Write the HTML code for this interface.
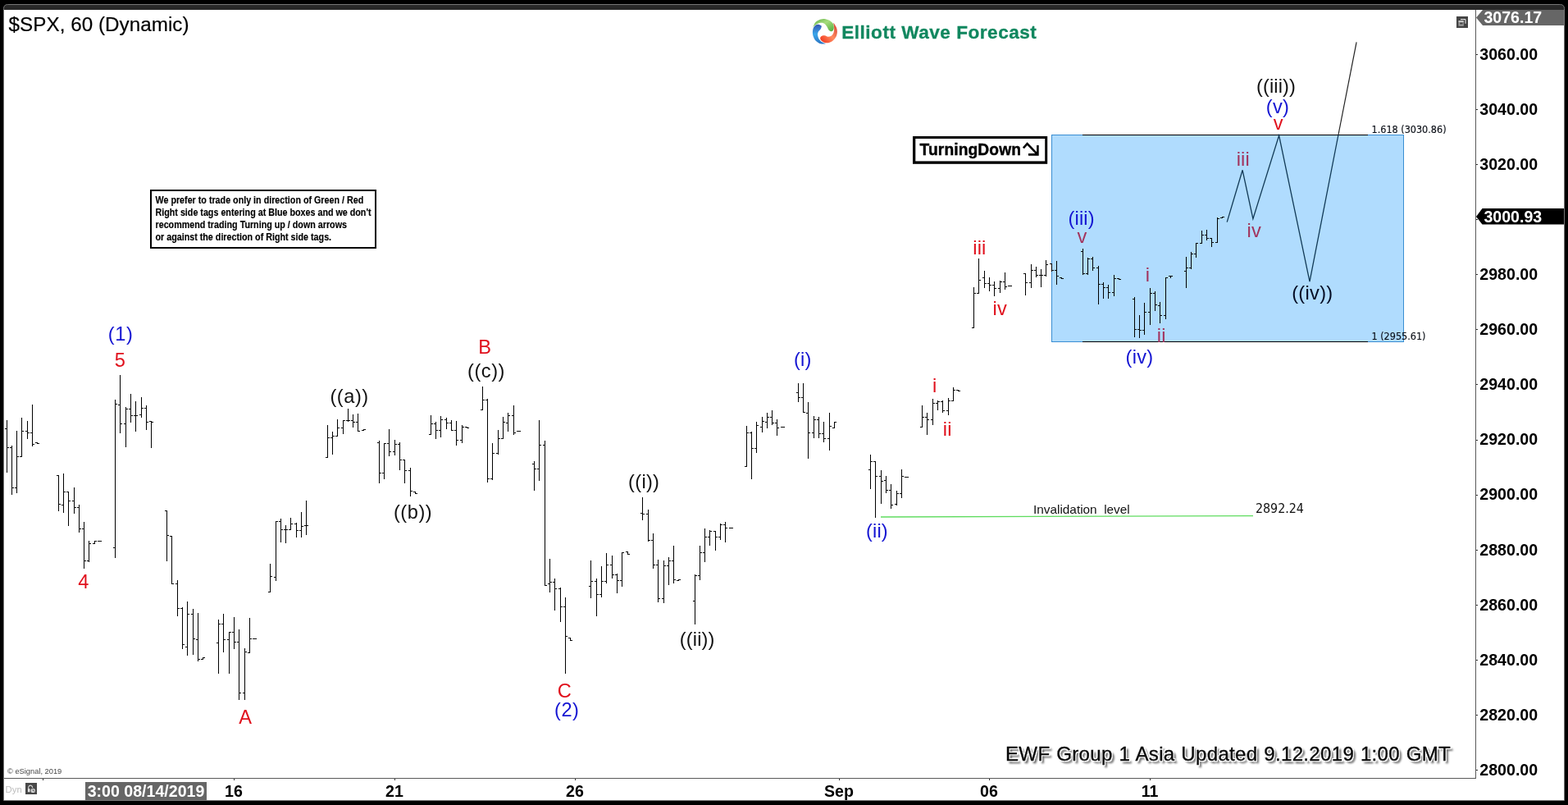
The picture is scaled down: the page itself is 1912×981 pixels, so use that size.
<!DOCTYPE html>
<html lang="en"><head><meta charset="utf-8"><title>$SPX, 60 (Dynamic) - Elliott Wave Forecast</title>
<style>
html,body{margin:0;padding:0;background:#000;}
body{width:1912px;height:981px;overflow:hidden;position:relative;font-family:"Liberation Sans",sans-serif;}
svg{position:absolute;left:0;top:0;display:block;}
text{font-family:"Liberation Sans",sans-serif;}
.lb{font-size:23.6px;letter-spacing:0.45px;}
.r{fill:#e0101c;} .b{fill:#1414d2;} .k{fill:#111;}
.rb{fill:#a2345e;} .kb{fill:#040c24;}
.ax{font-weight:bold;font-size:19.6px;fill:#000;}
.th{font-family:"DejaVu Sans Condensed","DejaVu Sans",sans-serif;}
</style></head><body>
<svg width="1912" height="981" viewBox="0 0 1912 981">

<rect x="0" y="0" width="1912" height="981" fill="#000"/>
<path d="M4.5 975.5 V10.5 Q4.5 5.500 9.5 5.500 H1902.5 Q1907.5 5.500 1907.5 10.5 V975.5 Z" fill="#282828" stroke="#777" stroke-width="1"/>
<rect x="5" y="12" width="1902" height="963" fill="#fff"/>
<rect x="0" y="976" width="1912" height="5" fill="#000"/>
<g shape-rendering="crispEdges">
<rect x="1799" y="12" width="1" height="937" fill="#585858"/>
<rect x="5" y="948" width="1795" height="1" fill="#585858"/>
<rect x="1800" y="938" width="2" height="1" fill="#333"/>
<rect x="1800" y="871" width="2" height="1" fill="#333"/>
<rect x="1800" y="804" width="2" height="1" fill="#333"/>
<rect x="1800" y="737" width="2" height="1" fill="#333"/>
<rect x="1800" y="670" width="2" height="1" fill="#333"/>
<rect x="1800" y="603" width="2" height="1" fill="#333"/>
<rect x="1800" y="536" width="2" height="1" fill="#333"/>
<rect x="1800" y="468" width="2" height="1" fill="#333"/>
<rect x="1800" y="401" width="2" height="1" fill="#333"/>
<rect x="1800" y="334" width="2" height="1" fill="#333"/>
<rect x="1800" y="267" width="2" height="1" fill="#333"/>
<rect x="1800" y="200" width="2" height="1" fill="#333"/>
<rect x="1800" y="133" width="2" height="1" fill="#333"/>
<rect x="1800" y="66" width="2" height="1" fill="#333"/>
<rect x="52" y="949" width="1" height="2" fill="#333"/>
<rect x="285" y="949" width="1" height="2" fill="#333"/>
<rect x="481" y="949" width="1" height="2" fill="#333"/>
<rect x="701" y="949" width="1" height="2" fill="#333"/>
<rect x="1023" y="949" width="1" height="2" fill="#333"/>
<rect x="1206" y="949" width="1" height="2" fill="#333"/>
<rect x="1402" y="949" width="1" height="2" fill="#333"/>
</g>
<text class="ax" x="1804.3" y="944.8">2800.00</text>
<text class="ax" x="1804.3" y="877.7">2820.00</text>
<text class="ax" x="1804.3" y="810.6">2840.00</text>
<text class="ax" x="1804.3" y="743.6">2860.00</text>
<text class="ax" x="1804.3" y="676.5">2880.00</text>
<text class="ax" x="1804.3" y="609.4">2900.00</text>
<text class="ax" x="1804.3" y="542.3">2920.00</text>
<text class="ax" x="1804.3" y="475.3">2940.00</text>
<text class="ax" x="1804.3" y="408.2">2960.00</text>
<text class="ax" x="1804.3" y="341.1">2980.00</text>
<text class="ax" x="1804.3" y="207.0">3020.00</text>
<text class="ax" x="1804.3" y="139.9">3040.00</text>
<text class="ax" x="1804.3" y="72.8">3060.00</text>
<text class="ax" x="285" y="971" text-anchor="middle">16</text>
<text class="ax" x="481" y="971" text-anchor="middle">21</text>
<text class="ax" x="701" y="971" text-anchor="middle">26</text>
<text class="ax" x="1023" y="971" text-anchor="middle">Sep</text>
<text class="ax" x="1206" y="971" text-anchor="middle">06</text>
<text class="ax" x="1402" y="971" text-anchor="middle">11</text>
<path d="M1800 21.5 L1808 12 H1907 V31 H1808 Z" fill="#666"/>
<text class="ax" x="1809.4" y="28" style="fill:#fff">3076.17</text>
<path d="M1800 264.1 L1807.5 254.1 H1907 V273.6 H1807.5 Z" fill="#000"/>
<text class="ax" x="1809.4" y="270.9" style="fill:#fff">3000.93</text>
<rect x="104" y="953" width="148" height="22" fill="#666"/>
<text class="ax" x="178" y="971" text-anchor="middle" style="fill:#fff">3:00 08/14/2019</text>
<text x="10.6" y="37.6" style="font-size:24.2px;fill:#000;stroke:#000;stroke-width:0.2px;letter-spacing:0.05px">$SPX, 60 (Dynamic)</text>
<text x="9" y="943.4" style="font-size:9.3px;fill:#484848">© eSignal, 2019</text>
<text x="6.6" y="965.7" style="font-size:11.3px;fill:#bdbdbd">Dyn</text>
<rect x="31" y="954" width="14" height="14" fill="#484848"/>
<path d="M34.7 962 V959.3 A2.5 2.7 0 0 1 39.6 959.3 V960" fill="none" stroke="#d8d8d8" stroke-width="1.1"/>
<rect x="33.9" y="961.2" width="2.6" height="4" fill="#e4e4e4"/>
<circle cx="40.2" cy="963.4" r="2.7" fill="#d2d2d2"/>
<path d="M40.2 961.6 V963.5 L41.9 964" fill="none" stroke="#484848" stroke-width="0.8"/>
<rect x="1776" y="20" width="14" height="14" fill="#444"/>
<path d="M1781 23.6 H1787 V28.8" fill="none" stroke="#f4f4f4" stroke-width="1"/>
<rect x="1778.5" y="25.4" width="6.3" height="6.3" fill="#9c9c9c"/>
<rect x="1778.5" y="25.4" width="6.3" height="1.1" fill="#ececec"/>
<rect x="1780.2" y="27.5" width="3.4" height="2.1" fill="#444"/>
<rect x="1282.5" y="164.5" width="429" height="252" fill="#b0dcfe" stroke="#3a8ed2" stroke-width="1"/>
<g shape-rendering="crispEdges"><rect x="1320" y="164" width="348" height="1" fill="#000"/><rect x="1320" y="416" width="348" height="1" fill="#000"/></g>
<text class="th" x="1672.5" y="162" style="font-size:12.5px;fill:#0c1018;stroke:#0c1018;stroke-width:0.15px">1.618 (3030.86)</text>
<text class="th" x="1672.5" y="414" style="font-size:12.5px;fill:#0c1018;stroke:#0c1018;stroke-width:0.15px">1 (2955.61)</text>
<line x1="1074" y1="630" x2="1528" y2="628.6" stroke="#5fdc5f" stroke-width="1.3"/>
<text x="1260" y="625.7" style="font-size:15.35px;fill:#111;white-space:pre" xml:space="preserve">Invalidation  level</text>
<text class="th" x="1531" y="625" style="font-size:15.9px;fill:#111;letter-spacing:-0.05px">2892.24</text>
<polyline points="1496.2,270.6 1515.1,207.3 1527.9,266.7 1559.6,165 1597,343.1 1631.9,164.5" fill="none" stroke="#123a56" stroke-width="1.3" stroke-linejoin="miter"/><line x1="1631.9" y1="164.5" x2="1654.1" y2="51.3" stroke="#222" stroke-width="1.2"/>
<rect x="184" y="232" width="274" height="70" fill="#fff" stroke="#000" stroke-width="2"/>
<text x="0" y="0" transform="translate(189.5 247.5) scale(0.895 1)" style="font-size:12px;font-weight:bold;fill:#000;stroke:#000;stroke-width:0.15px">We prefer to trade only in direction of Green / Red</text>
<text x="0" y="0" transform="translate(189.5 262.7) scale(0.895 1)" style="font-size:12px;font-weight:bold;fill:#000;stroke:#000;stroke-width:0.15px">Right side tags entering at Blue boxes and we don't</text>
<text x="0" y="0" transform="translate(189.5 277.9) scale(0.895 1)" style="font-size:12px;font-weight:bold;fill:#000;stroke:#000;stroke-width:0.15px">recommend trading Turning up / down arrows</text>
<text x="0" y="0" transform="translate(189.5 293.1) scale(0.895 1)" style="font-size:12px;font-weight:bold;fill:#000;stroke:#000;stroke-width:0.15px">or against the direction of Right side tags.</text>
<rect x="1113" y="166" width="164.2" height="33.8" fill="#000"/>
<rect x="1116.3" y="169" width="157.9" height="27.4" fill="#fff"/>
<text x="0" y="0" transform="translate(1121.6 189.4) scale(0.925 1)" style="font-size:20.8px;font-weight:bold;fill:#000;stroke:#000;stroke-width:0.45px;letter-spacing:0.1px">TurningDown</text>
<path d="M1247.9 180.3 L1252.6 175.2 L1264.6 187.6 M1254 188.4 H1265.4 V177" fill="none" stroke="#000" stroke-width="2.6" stroke-linejoin="miter"/>
<g transform="translate(1006 38)">
<defs>
<linearGradient id="gg" x1="0" y1="0" x2="1" y2="1"><stop offset="0" stop-color="#5fae45"/><stop offset="0.45" stop-color="#a6dc7e"/><stop offset="1" stop-color="#52ac3c"/></linearGradient>
<linearGradient id="gr" x1="1" y1="0" x2="0" y2="1"><stop offset="0" stop-color="#d23a2e"/><stop offset="0.5" stop-color="#ff8c60"/><stop offset="1" stop-color="#f02c14"/></linearGradient>
<linearGradient id="gb" x1="0.5" y1="0" x2="0.5" y2="1"><stop offset="0" stop-color="#3556b2"/><stop offset="0.5" stop-color="#3aa6ea"/><stop offset="1" stop-color="#2a74c2"/></linearGradient>
</defs>
<path d="M-8.16 -8.30 C-7.01 -8.13 -4.81 -7.37 -4.34 -6.42 C-3.87 -5.46 -4.74 -3.74 -5.36 -2.59 C-5.98 -1.45 -7.46 -0.72 -8.06 0.46 C-8.65 1.65 -9.06 3.01 -8.93 4.54 C-8.79 6.07 -8.22 8.13 -7.24 9.64 C-6.27 11.15 -4.40 12.66 -3.06 13.61 C-1.73 14.57 1.18 15.08 0.76 15.35 C0.33 15.62 -3.62 15.84 -5.61 15.25 C-7.61 14.65 -9.74 13.35 -11.22 11.78 C-12.70 10.21 -13.84 7.79 -14.48 5.82 C-15.12 3.85 -15.16 1.70 -15.04 -0.04 C-14.92 -1.79 -14.40 -3.40 -13.77 -4.63 C-13.13 -5.86 -12.15 -6.82 -11.22 -7.44 C-10.28 -8.05 -9.31 -8.47 -8.16 -8.30Z" fill="url(#gb)"/>
<path d="M10.44 -9.98 C10.94 -9.64 13.02 -6.46 13.76 -4.63 C14.49 -2.81 14.94 -0.98 14.88 0.97 C14.81 2.93 14.37 5.22 13.35 7.09 C12.33 8.96 10.56 10.98 8.76 12.19 C6.96 13.39 4.34 14.16 2.54 14.33 C0.74 14.50 -0.77 13.80 -2.04 13.21 C-3.32 12.61 -4.49 11.68 -5.10 10.76 C-5.71 9.84 -5.97 8.55 -5.71 7.70 C-5.46 6.85 -4.48 6.06 -3.57 5.66 C-2.66 5.26 -1.45 5.14 -0.26 5.31 C0.93 5.48 2.24 6.62 3.56 6.68 C4.88 6.74 6.52 6.40 7.64 5.66 C8.76 4.92 9.71 3.62 10.29 2.25 C10.87 0.87 11.02 -1.11 11.10 -2.59 C11.19 -4.08 10.91 -5.44 10.80 -6.67 C10.69 -7.90 9.95 -10.32 10.44 -9.98Z" fill="url(#gr)"/>
<path d="M-14.69 -5.04 C-14.30 -5.93 -12.65 -10.14 -10.71 -11.77 C-8.77 -13.40 -5.61 -14.55 -3.06 -14.83 C-0.52 -15.10 2.46 -14.33 4.58 -13.40 C6.70 -12.46 8.64 -10.68 9.68 -9.22 C10.71 -7.76 10.76 -5.99 10.80 -4.63 C10.84 -3.27 10.54 -1.87 9.93 -1.06 C9.32 -0.26 8.06 0.34 7.13 0.21 C6.20 0.08 5.13 -0.85 4.33 -1.83 C3.52 -2.81 3.09 -4.44 2.29 -5.65 C1.48 -6.87 0.63 -8.34 -0.52 -9.12 C-1.66 -9.90 -3.15 -10.34 -4.59 -10.34 C-6.04 -10.34 -7.78 -9.77 -9.18 -9.12 C-10.58 -8.46 -12.09 -7.10 -13.00 -6.42 C-13.92 -5.74 -15.07 -4.15 -14.69 -5.04Z" fill="url(#gg)"/>
</g>
<text x="1026.2" y="47" style="font-size:22.6px;font-weight:bold;fill:#11875f;stroke:#11875f;stroke-width:0.3px;letter-spacing:0.5px">Elliott Wave Forecast</text>
<defs><filter id="sh" x="-3%" y="-40%" width="106%" height="200%" color-interpolation-filters="sRGB"><feGaussianBlur in="SourceAlpha" stdDeviation="0.95" result="b"/><feOffset in="b" dx="2.8" dy="2.8" result="o"/><feFlood flood-color="#5c5c5c"/><feComposite in2="o" operator="in" result="shadow"/><feMorphology in="SourceAlpha" operator="dilate" radius="1" result="d"/><feGaussianBlur in="d" stdDeviation="0.35" result="d2"/><feFlood flood-color="#fff"/><feComposite in2="d2" operator="in" result="halo"/><feMerge><feMergeNode in="shadow"/><feMergeNode in="halo"/><feMergeNode in="halo"/><feMergeNode in="SourceGraphic"/></feMerge></filter></defs>
<text x="1226.0" y="927" filter="url(#sh)" style="font-size:24.1px;letter-spacing:0.3px;word-spacing:0.75px;fill:#0a0a0a;stroke:#0a0a0a;stroke-width:0.35px">EWF Group 1 Asia Updated 9.12.2019 1:00 GMT</text>
<text class="lb b" x="147.08" y="415" text-anchor="middle" style="letter-spacing:0.55px">(1)</text>
<text class="lb r" x="146.68" y="447" text-anchor="middle" style="letter-spacing:0.55px">5</text>
<text class="lb r" x="102.18" y="717" text-anchor="middle" style="letter-spacing:0.55px">4</text>
<text class="lb r" x="299.47" y="882" text-anchor="middle" style="letter-spacing:0.55px">A</text>
<text class="lb k" x="426.07" y="491" text-anchor="middle" style="letter-spacing:0.55px">((a))</text>
<text class="lb k" x="503.57" y="632" text-anchor="middle" style="letter-spacing:0.55px">((b))</text>
<text class="lb r" x="591.48" y="431" text-anchor="middle" style="letter-spacing:0.55px">B</text>
<text class="lb k" x="592.98" y="460" text-anchor="middle" style="letter-spacing:0.55px">((c))</text>
<text class="lb r" x="688.48" y="850" text-anchor="middle" style="letter-spacing:0.55px">C</text>
<text class="lb b" x="691.27" y="873" text-anchor="middle" style="letter-spacing:0.55px">(2)</text>
<text class="lb k" x="785.15" y="595" text-anchor="middle" style="letter-spacing:0.3px">((i))</text>
<text class="lb k" x="850.18" y="787" text-anchor="middle" style="letter-spacing:0.15px">((ii))</text>
<text class="lb b" x="978.85" y="446" text-anchor="middle" style="letter-spacing:0.3px">(i)</text>
<text class="lb b" x="1069.48" y="655" text-anchor="middle" style="letter-spacing:0.15px">(ii)</text>
<text class="lb r" x="1139.78" y="478" text-anchor="middle" style="letter-spacing:0.55px">i</text>
<text class="lb r" x="1155.17" y="531" text-anchor="middle" style="letter-spacing:0.15px">ii</text>
<text class="lb r" x="1194.38" y="310" text-anchor="middle" style="letter-spacing:0.15px">iii</text>
<text class="lb r" x="1219.35" y="383.6" text-anchor="middle" style="letter-spacing:0.3px">iv</text>
<text class="lb b" x="1318.67" y="274" text-anchor="middle" style="letter-spacing:0.15px">(iii)</text>
<text class="lb rb" x="1319.78" y="296" text-anchor="middle" style="letter-spacing:0.55px">v</text>
<text class="lb rb" x="1399.58" y="342.6" text-anchor="middle" style="letter-spacing:0.55px">i</text>
<text class="lb rb" x="1416.17" y="416.6" text-anchor="middle" style="letter-spacing:0.15px">ii</text>
<text class="lb b" x="1389.45" y="443" text-anchor="middle" style="letter-spacing:0.3px">(iv)</text>
<text class="lb rb" x="1515.78" y="201.7" text-anchor="middle" style="letter-spacing:0.15px">iii</text>
<text class="lb rb" x="1529.35" y="289" text-anchor="middle" style="letter-spacing:0.3px">iv</text>
<text class="lb k" x="1555.98" y="113" text-anchor="middle" style="letter-spacing:0.15px">((iii))</text>
<text class="lb b" x="1558.05" y="138" text-anchor="middle" style="letter-spacing:0.3px">(v)</text>
<text class="lb r" x="1558.98" y="158" text-anchor="middle" style="letter-spacing:0.55px">v</text>
<text class="lb kb" x="1600.35" y="365" text-anchor="middle" style="letter-spacing:0.3px">((iv))</text>
<g shape-rendering="crispEdges" fill="#000">
<rect x="8" y="512" width="1" height="64"/>
<rect x="6" y="522" width="2" height="1"/>
<rect x="9" y="545" width="2" height="1"/>
<rect x="14" y="543" width="1" height="60"/>
<rect x="12" y="545" width="2" height="1"/>
<rect x="15" y="594" width="2" height="1"/>
<rect x="20" y="525" width="1" height="76"/>
<rect x="18" y="594" width="2" height="1"/>
<rect x="21" y="556" width="2" height="1"/>
<rect x="26" y="509" width="1" height="48"/>
<rect x="24" y="556" width="2" height="1"/>
<rect x="27" y="525" width="2" height="1"/>
<rect x="33" y="513" width="1" height="22"/>
<rect x="31" y="525" width="2" height="1"/>
<rect x="34" y="527" width="2" height="1"/>
<rect x="39" y="493" width="1" height="51"/>
<rect x="37" y="527" width="2" height="1"/>
<rect x="40" y="541" width="2" height="1"/>
<rect x="71" y="579" width="1" height="44"/>
<rect x="69" y="579" width="2" height="1"/>
<rect x="72" y="614" width="2" height="1"/>
<rect x="77" y="577" width="1" height="48"/>
<rect x="75" y="615" width="2" height="1"/>
<rect x="78" y="599" width="2" height="1"/>
<rect x="83" y="599" width="1" height="42"/>
<rect x="81" y="599" width="2" height="1"/>
<rect x="84" y="610" width="2" height="1"/>
<rect x="90" y="594" width="1" height="32"/>
<rect x="88" y="610" width="2" height="1"/>
<rect x="91" y="618" width="2" height="1"/>
<rect x="96" y="615" width="1" height="34"/>
<rect x="94" y="618" width="2" height="1"/>
<rect x="97" y="644" width="2" height="1"/>
<rect x="102" y="636" width="1" height="57"/>
<rect x="100" y="644" width="2" height="1"/>
<rect x="103" y="683" width="2" height="1"/>
<rect x="108" y="659" width="1" height="26"/>
<rect x="106" y="683" width="2" height="1"/>
<rect x="109" y="662" width="2" height="1"/>
<rect x="140" y="487" width="1" height="193"/>
<rect x="138" y="667" width="2" height="1"/>
<rect x="141" y="492" width="2" height="1"/>
<rect x="146" y="457" width="1" height="71"/>
<rect x="144" y="493" width="2" height="1"/>
<rect x="147" y="516" width="2" height="1"/>
<rect x="153" y="496" width="1" height="49"/>
<rect x="151" y="516" width="2" height="1"/>
<rect x="154" y="498" width="2" height="1"/>
<rect x="159" y="480" width="1" height="35"/>
<rect x="157" y="498" width="2" height="1"/>
<rect x="160" y="506" width="2" height="1"/>
<rect x="165" y="489" width="1" height="37"/>
<rect x="163" y="506" width="2" height="1"/>
<rect x="166" y="506" width="2" height="1"/>
<rect x="172" y="484" width="1" height="25"/>
<rect x="170" y="505" width="2" height="1"/>
<rect x="173" y="497" width="2" height="1"/>
<rect x="178" y="494" width="1" height="30"/>
<rect x="176" y="497" width="2" height="1"/>
<rect x="179" y="514" width="2" height="1"/>
<rect x="184" y="513" width="1" height="33"/>
<rect x="182" y="513" width="2" height="1"/>
<rect x="185" y="514" width="2" height="1"/>
<rect x="203" y="622" width="1" height="62"/>
<rect x="201" y="622" width="2" height="1"/>
<rect x="204" y="652" width="2" height="1"/>
<rect x="209" y="653" width="1" height="59"/>
<rect x="207" y="653" width="2" height="1"/>
<rect x="210" y="711" width="2" height="1"/>
<rect x="216" y="707" width="1" height="44"/>
<rect x="214" y="711" width="2" height="1"/>
<rect x="217" y="741" width="2" height="1"/>
<rect x="222" y="740" width="1" height="51"/>
<rect x="220" y="741" width="2" height="1"/>
<rect x="223" y="785" width="2" height="1"/>
<rect x="228" y="733" width="1" height="66"/>
<rect x="226" y="788" width="2" height="1"/>
<rect x="229" y="748" width="2" height="1"/>
<rect x="235" y="742" width="1" height="56"/>
<rect x="233" y="748" width="2" height="1"/>
<rect x="236" y="778" width="2" height="1"/>
<rect x="241" y="747" width="1" height="59"/>
<rect x="239" y="779" width="2" height="1"/>
<rect x="242" y="803" width="2" height="1"/>
<rect x="266" y="755" width="1" height="66"/>
<rect x="264" y="783" width="2" height="1"/>
<rect x="267" y="760" width="2" height="1"/>
<rect x="272" y="748" width="1" height="47"/>
<rect x="270" y="760" width="2" height="1"/>
<rect x="273" y="779" width="2" height="1"/>
<rect x="279" y="770" width="1" height="51"/>
<rect x="277" y="779" width="2" height="1"/>
<rect x="280" y="770" width="2" height="1"/>
<rect x="285" y="752" width="1" height="39"/>
<rect x="283" y="770" width="2" height="1"/>
<rect x="286" y="782" width="2" height="1"/>
<rect x="291" y="767" width="1" height="86"/>
<rect x="289" y="782" width="2" height="1"/>
<rect x="292" y="844" width="2" height="1"/>
<rect x="298" y="790" width="1" height="63"/>
<rect x="296" y="844" width="2" height="1"/>
<rect x="299" y="794" width="2" height="1"/>
<rect x="304" y="753" width="1" height="43"/>
<rect x="302" y="795" width="2" height="1"/>
<rect x="305" y="778" width="2" height="1"/>
<rect x="329" y="687" width="1" height="35"/>
<rect x="327" y="721" width="2" height="1"/>
<rect x="330" y="702" width="2" height="1"/>
<rect x="336" y="635" width="1" height="73"/>
<rect x="334" y="703" width="2" height="1"/>
<rect x="337" y="635" width="2" height="1"/>
<rect x="342" y="632" width="1" height="29"/>
<rect x="340" y="635" width="2" height="1"/>
<rect x="343" y="645" width="2" height="1"/>
<rect x="348" y="640" width="1" height="22"/>
<rect x="346" y="645" width="2" height="1"/>
<rect x="349" y="645" width="2" height="1"/>
<rect x="354" y="631" width="1" height="15"/>
<rect x="352" y="645" width="2" height="1"/>
<rect x="355" y="638" width="2" height="1"/>
<rect x="361" y="637" width="1" height="18"/>
<rect x="359" y="638" width="2" height="1"/>
<rect x="362" y="646" width="2" height="1"/>
<rect x="367" y="624" width="1" height="31"/>
<rect x="365" y="646" width="2" height="1"/>
<rect x="368" y="641" width="2" height="1"/>
<rect x="373" y="610" width="1" height="42"/>
<rect x="371" y="640" width="2" height="1"/>
<rect x="374" y="640" width="2" height="1"/>
<rect x="399" y="518" width="1" height="40"/>
<rect x="397" y="557" width="2" height="1"/>
<rect x="400" y="533" width="2" height="1"/>
<rect x="405" y="526" width="1" height="28"/>
<rect x="403" y="533" width="2" height="1"/>
<rect x="406" y="531" width="2" height="1"/>
<rect x="411" y="511" width="1" height="21"/>
<rect x="409" y="531" width="2" height="1"/>
<rect x="412" y="521" width="2" height="1"/>
<rect x="418" y="512" width="1" height="17"/>
<rect x="416" y="521" width="2" height="1"/>
<rect x="419" y="512" width="2" height="1"/>
<rect x="424" y="498" width="1" height="16"/>
<rect x="422" y="512" width="2" height="1"/>
<rect x="425" y="512" width="2" height="1"/>
<rect x="430" y="505" width="1" height="16"/>
<rect x="428" y="512" width="2" height="1"/>
<rect x="431" y="514" width="2" height="1"/>
<rect x="436" y="504" width="1" height="22"/>
<rect x="434" y="514" width="2" height="1"/>
<rect x="437" y="525" width="2" height="1"/>
<rect x="462" y="537" width="1" height="52"/>
<rect x="460" y="539" width="2" height="1"/>
<rect x="463" y="576" width="2" height="1"/>
<rect x="468" y="540" width="1" height="44"/>
<rect x="466" y="576" width="2" height="1"/>
<rect x="469" y="540" width="2" height="1"/>
<rect x="474" y="523" width="1" height="33"/>
<rect x="472" y="540" width="2" height="1"/>
<rect x="475" y="550" width="2" height="1"/>
<rect x="481" y="536" width="1" height="19"/>
<rect x="479" y="550" width="2" height="1"/>
<rect x="482" y="541" width="2" height="1"/>
<rect x="487" y="539" width="1" height="34"/>
<rect x="485" y="541" width="2" height="1"/>
<rect x="488" y="560" width="2" height="1"/>
<rect x="493" y="560" width="1" height="29"/>
<rect x="491" y="560" width="2" height="1"/>
<rect x="494" y="573" width="2" height="1"/>
<rect x="500" y="570" width="1" height="35"/>
<rect x="498" y="573" width="2" height="1"/>
<rect x="501" y="598" width="2" height="1"/>
<rect x="525" y="506" width="1" height="24"/>
<rect x="523" y="529" width="2" height="1"/>
<rect x="526" y="516" width="2" height="1"/>
<rect x="531" y="514" width="1" height="21"/>
<rect x="529" y="516" width="2" height="1"/>
<rect x="532" y="524" width="2" height="1"/>
<rect x="537" y="507" width="1" height="26"/>
<rect x="535" y="524" width="2" height="1"/>
<rect x="538" y="511" width="2" height="1"/>
<rect x="544" y="509" width="1" height="14"/>
<rect x="542" y="511" width="2" height="1"/>
<rect x="545" y="515" width="2" height="1"/>
<rect x="550" y="512" width="1" height="13"/>
<rect x="548" y="515" width="2" height="1"/>
<rect x="551" y="524" width="2" height="1"/>
<rect x="556" y="513" width="1" height="30"/>
<rect x="554" y="524" width="2" height="1"/>
<rect x="557" y="536" width="2" height="1"/>
<rect x="563" y="518" width="1" height="22"/>
<rect x="561" y="536" width="2" height="1"/>
<rect x="564" y="520" width="2" height="1"/>
<rect x="588" y="471" width="1" height="29"/>
<rect x="586" y="499" width="2" height="1"/>
<rect x="589" y="487" width="2" height="1"/>
<rect x="594" y="486" width="1" height="102"/>
<rect x="592" y="487" width="2" height="1"/>
<rect x="595" y="583" width="2" height="1"/>
<rect x="600" y="540" width="1" height="45"/>
<rect x="598" y="583" width="2" height="1"/>
<rect x="601" y="552" width="2" height="1"/>
<rect x="607" y="524" width="1" height="30"/>
<rect x="605" y="552" width="2" height="1"/>
<rect x="608" y="534" width="2" height="1"/>
<rect x="613" y="508" width="1" height="27"/>
<rect x="611" y="534" width="2" height="1"/>
<rect x="614" y="514" width="2" height="1"/>
<rect x="619" y="503" width="1" height="23"/>
<rect x="617" y="515" width="2" height="1"/>
<rect x="620" y="506" width="2" height="1"/>
<rect x="626" y="494" width="1" height="36"/>
<rect x="624" y="506" width="2" height="1"/>
<rect x="627" y="527" width="2" height="1"/>
<rect x="651" y="562" width="1" height="36"/>
<rect x="649" y="565" width="2" height="1"/>
<rect x="652" y="571" width="2" height="1"/>
<rect x="657" y="512" width="1" height="74"/>
<rect x="655" y="571" width="2" height="1"/>
<rect x="658" y="542" width="2" height="1"/>
<rect x="664" y="537" width="1" height="177"/>
<rect x="662" y="542" width="2" height="1"/>
<rect x="665" y="713" width="2" height="1"/>
<rect x="670" y="681" width="1" height="41"/>
<rect x="668" y="711" width="2" height="1"/>
<rect x="671" y="709" width="2" height="1"/>
<rect x="676" y="705" width="1" height="39"/>
<rect x="674" y="709" width="2" height="1"/>
<rect x="677" y="717" width="2" height="1"/>
<rect x="683" y="716" width="1" height="42"/>
<rect x="681" y="717" width="2" height="1"/>
<rect x="684" y="739" width="2" height="1"/>
<rect x="689" y="728" width="1" height="93"/>
<rect x="687" y="739" width="2" height="1"/>
<rect x="690" y="775" width="2" height="1"/>
<rect x="720" y="683" width="1" height="46"/>
<rect x="718" y="714" width="2" height="1"/>
<rect x="721" y="708" width="2" height="1"/>
<rect x="727" y="705" width="1" height="46"/>
<rect x="725" y="708" width="2" height="1"/>
<rect x="728" y="724" width="2" height="1"/>
<rect x="733" y="690" width="1" height="38"/>
<rect x="731" y="724" width="2" height="1"/>
<rect x="734" y="708" width="2" height="1"/>
<rect x="739" y="674" width="1" height="37"/>
<rect x="737" y="708" width="2" height="1"/>
<rect x="740" y="688" width="2" height="1"/>
<rect x="746" y="677" width="1" height="28"/>
<rect x="744" y="688" width="2" height="1"/>
<rect x="747" y="700" width="2" height="1"/>
<rect x="752" y="699" width="1" height="24"/>
<rect x="750" y="700" width="2" height="1"/>
<rect x="753" y="707" width="2" height="1"/>
<rect x="758" y="673" width="1" height="42"/>
<rect x="756" y="707" width="2" height="1"/>
<rect x="759" y="673" width="2" height="1"/>
<rect x="783" y="606" width="1" height="28"/>
<rect x="781" y="625" width="2" height="1"/>
<rect x="784" y="626" width="2" height="1"/>
<rect x="790" y="621" width="1" height="39"/>
<rect x="788" y="626" width="2" height="1"/>
<rect x="791" y="658" width="2" height="1"/>
<rect x="796" y="650" width="1" height="43"/>
<rect x="794" y="658" width="2" height="1"/>
<rect x="797" y="688" width="2" height="1"/>
<rect x="802" y="682" width="1" height="52"/>
<rect x="800" y="688" width="2" height="1"/>
<rect x="803" y="729" width="2" height="1"/>
<rect x="809" y="683" width="1" height="52"/>
<rect x="807" y="729" width="2" height="1"/>
<rect x="810" y="689" width="2" height="1"/>
<rect x="815" y="679" width="1" height="34"/>
<rect x="813" y="689" width="2" height="1"/>
<rect x="816" y="683" width="2" height="1"/>
<rect x="821" y="665" width="1" height="46"/>
<rect x="819" y="683" width="2" height="1"/>
<rect x="822" y="706" width="2" height="1"/>
<rect x="847" y="700" width="1" height="61"/>
<rect x="845" y="732" width="2" height="1"/>
<rect x="848" y="701" width="2" height="1"/>
<rect x="853" y="665" width="1" height="42"/>
<rect x="851" y="701" width="2" height="1"/>
<rect x="854" y="673" width="2" height="1"/>
<rect x="859" y="644" width="1" height="41"/>
<rect x="857" y="673" width="2" height="1"/>
<rect x="860" y="654" width="2" height="1"/>
<rect x="865" y="646" width="1" height="19"/>
<rect x="863" y="654" width="2" height="1"/>
<rect x="866" y="647" width="2" height="1"/>
<rect x="872" y="647" width="1" height="24"/>
<rect x="870" y="647" width="2" height="1"/>
<rect x="873" y="654" width="2" height="1"/>
<rect x="878" y="638" width="1" height="20"/>
<rect x="876" y="654" width="2" height="1"/>
<rect x="879" y="639" width="2" height="1"/>
<rect x="884" y="636" width="1" height="25"/>
<rect x="882" y="639" width="2" height="1"/>
<rect x="885" y="643" width="2" height="1"/>
<rect x="910" y="519" width="1" height="50"/>
<rect x="908" y="568" width="2" height="1"/>
<rect x="911" y="527" width="2" height="1"/>
<rect x="916" y="526" width="1" height="58"/>
<rect x="914" y="527" width="2" height="1"/>
<rect x="917" y="546" width="2" height="1"/>
<rect x="922" y="514" width="1" height="38"/>
<rect x="920" y="546" width="2" height="1"/>
<rect x="923" y="518" width="2" height="1"/>
<rect x="929" y="508" width="1" height="19"/>
<rect x="927" y="520" width="2" height="1"/>
<rect x="930" y="513" width="2" height="1"/>
<rect x="935" y="503" width="1" height="19"/>
<rect x="933" y="514" width="2" height="1"/>
<rect x="936" y="508" width="2" height="1"/>
<rect x="941" y="500" width="1" height="18"/>
<rect x="939" y="508" width="2" height="1"/>
<rect x="942" y="515" width="2" height="1"/>
<rect x="947" y="511" width="1" height="20"/>
<rect x="945" y="515" width="2" height="1"/>
<rect x="948" y="521" width="2" height="1"/>
<rect x="973" y="467" width="1" height="23"/>
<rect x="971" y="478" width="2" height="1"/>
<rect x="974" y="484" width="2" height="1"/>
<rect x="979" y="467" width="1" height="36"/>
<rect x="977" y="484" width="2" height="1"/>
<rect x="980" y="502" width="2" height="1"/>
<rect x="985" y="490" width="1" height="69"/>
<rect x="983" y="503" width="2" height="1"/>
<rect x="986" y="527" width="2" height="1"/>
<rect x="992" y="507" width="1" height="27"/>
<rect x="990" y="527" width="2" height="1"/>
<rect x="993" y="511" width="2" height="1"/>
<rect x="998" y="508" width="1" height="26"/>
<rect x="996" y="511" width="2" height="1"/>
<rect x="999" y="528" width="2" height="1"/>
<rect x="1004" y="514" width="1" height="25"/>
<rect x="1002" y="528" width="2" height="1"/>
<rect x="1005" y="534" width="2" height="1"/>
<rect x="1011" y="503" width="1" height="46"/>
<rect x="1009" y="534" width="2" height="1"/>
<rect x="1012" y="519" width="2" height="1"/>
<rect x="1061" y="554" width="1" height="42"/>
<rect x="1059" y="572" width="2" height="1"/>
<rect x="1062" y="562" width="2" height="1"/>
<rect x="1067" y="562" width="1" height="69"/>
<rect x="1065" y="562" width="2" height="1"/>
<rect x="1068" y="580" width="2" height="1"/>
<rect x="1074" y="573" width="1" height="41"/>
<rect x="1072" y="580" width="2" height="1"/>
<rect x="1075" y="586" width="2" height="1"/>
<rect x="1080" y="580" width="1" height="21"/>
<rect x="1078" y="585" width="2" height="1"/>
<rect x="1081" y="597" width="2" height="1"/>
<rect x="1086" y="590" width="1" height="30"/>
<rect x="1084" y="597" width="2" height="1"/>
<rect x="1087" y="615" width="2" height="1"/>
<rect x="1093" y="598" width="1" height="18"/>
<rect x="1091" y="614" width="2" height="1"/>
<rect x="1094" y="601" width="2" height="1"/>
<rect x="1099" y="572" width="1" height="35"/>
<rect x="1097" y="601" width="2" height="1"/>
<rect x="1100" y="580" width="2" height="1"/>
<rect x="1124" y="494" width="1" height="27"/>
<rect x="1122" y="520" width="2" height="1"/>
<rect x="1125" y="508" width="2" height="1"/>
<rect x="1130" y="503" width="1" height="27"/>
<rect x="1128" y="508" width="2" height="1"/>
<rect x="1131" y="511" width="2" height="1"/>
<rect x="1137" y="486" width="1" height="32"/>
<rect x="1135" y="511" width="2" height="1"/>
<rect x="1138" y="491" width="2" height="1"/>
<rect x="1143" y="488" width="1" height="12"/>
<rect x="1141" y="491" width="2" height="1"/>
<rect x="1144" y="489" width="2" height="1"/>
<rect x="1149" y="488" width="1" height="15"/>
<rect x="1147" y="489" width="2" height="1"/>
<rect x="1150" y="500" width="2" height="1"/>
<rect x="1156" y="485" width="1" height="21"/>
<rect x="1154" y="500" width="2" height="1"/>
<rect x="1157" y="488" width="2" height="1"/>
<rect x="1162" y="472" width="1" height="17"/>
<rect x="1160" y="488" width="2" height="1"/>
<rect x="1163" y="475" width="2" height="1"/>
<rect x="1187" y="350" width="1" height="50"/>
<rect x="1185" y="399" width="2" height="1"/>
<rect x="1188" y="357" width="2" height="1"/>
<rect x="1193" y="315" width="1" height="43"/>
<rect x="1191" y="357" width="2" height="1"/>
<rect x="1194" y="341" width="2" height="1"/>
<rect x="1200" y="330" width="1" height="21"/>
<rect x="1198" y="338" width="2" height="1"/>
<rect x="1201" y="345" width="2" height="1"/>
<rect x="1206" y="338" width="1" height="17"/>
<rect x="1204" y="345" width="2" height="1"/>
<rect x="1207" y="347" width="2" height="1"/>
<rect x="1212" y="343" width="1" height="18"/>
<rect x="1210" y="347" width="2" height="1"/>
<rect x="1213" y="351" width="2" height="1"/>
<rect x="1219" y="342" width="1" height="15"/>
<rect x="1217" y="351" width="2" height="1"/>
<rect x="1220" y="343" width="2" height="1"/>
<rect x="1225" y="332" width="1" height="21"/>
<rect x="1223" y="343" width="2" height="1"/>
<rect x="1226" y="349" width="2" height="1"/>
<rect x="1250" y="333" width="1" height="27"/>
<rect x="1248" y="333" width="2" height="1"/>
<rect x="1251" y="344" width="2" height="1"/>
<rect x="1257" y="322" width="1" height="29"/>
<rect x="1255" y="344" width="2" height="1"/>
<rect x="1258" y="329" width="2" height="1"/>
<rect x="1263" y="325" width="1" height="13"/>
<rect x="1261" y="329" width="2" height="1"/>
<rect x="1264" y="335" width="2" height="1"/>
<rect x="1269" y="328" width="1" height="22"/>
<rect x="1267" y="335" width="2" height="1"/>
<rect x="1270" y="335" width="2" height="1"/>
<rect x="1275" y="317" width="1" height="20"/>
<rect x="1273" y="335" width="2" height="1"/>
<rect x="1276" y="322" width="2" height="1"/>
<rect x="1282" y="321" width="1" height="10"/>
<rect x="1280" y="321" width="2" height="1"/>
<rect x="1283" y="329" width="2" height="1"/>
<rect x="1288" y="318" width="1" height="29"/>
<rect x="1286" y="329" width="2" height="1"/>
<rect x="1289" y="336" width="2" height="1"/>
<rect x="1320" y="303" width="1" height="32"/>
<rect x="1318" y="306" width="2" height="1"/>
<rect x="1321" y="333" width="2" height="1"/>
<rect x="1326" y="314" width="1" height="21"/>
<rect x="1324" y="333" width="2" height="1"/>
<rect x="1327" y="315" width="2" height="1"/>
<rect x="1332" y="313" width="1" height="17"/>
<rect x="1330" y="315" width="2" height="1"/>
<rect x="1333" y="326" width="2" height="1"/>
<rect x="1339" y="324" width="1" height="47"/>
<rect x="1337" y="326" width="2" height="1"/>
<rect x="1340" y="346" width="2" height="1"/>
<rect x="1345" y="344" width="1" height="20"/>
<rect x="1343" y="346" width="2" height="1"/>
<rect x="1346" y="350" width="2" height="1"/>
<rect x="1351" y="347" width="1" height="17"/>
<rect x="1349" y="350" width="2" height="1"/>
<rect x="1352" y="356" width="2" height="1"/>
<rect x="1358" y="335" width="1" height="26"/>
<rect x="1356" y="356" width="2" height="1"/>
<rect x="1359" y="339" width="2" height="1"/>
<rect x="1383" y="362" width="1" height="49"/>
<rect x="1381" y="364" width="2" height="1"/>
<rect x="1384" y="401" width="2" height="1"/>
<rect x="1389" y="384" width="1" height="28"/>
<rect x="1387" y="401" width="2" height="1"/>
<rect x="1390" y="402" width="2" height="1"/>
<rect x="1395" y="369" width="1" height="39"/>
<rect x="1393" y="402" width="2" height="1"/>
<rect x="1396" y="380" width="2" height="1"/>
<rect x="1402" y="351" width="1" height="45"/>
<rect x="1400" y="380" width="2" height="1"/>
<rect x="1403" y="357" width="2" height="1"/>
<rect x="1408" y="355" width="1" height="24"/>
<rect x="1406" y="357" width="2" height="1"/>
<rect x="1409" y="371" width="2" height="1"/>
<rect x="1414" y="368" width="1" height="26"/>
<rect x="1412" y="372" width="2" height="1"/>
<rect x="1415" y="384" width="2" height="1"/>
<rect x="1421" y="338" width="1" height="51"/>
<rect x="1419" y="384" width="2" height="1"/>
<rect x="1422" y="338" width="2" height="1"/>
<rect x="1446" y="313" width="1" height="38"/>
<rect x="1444" y="330" width="2" height="1"/>
<rect x="1447" y="326" width="2" height="1"/>
<rect x="1452" y="307" width="1" height="21"/>
<rect x="1450" y="326" width="2" height="1"/>
<rect x="1453" y="309" width="2" height="1"/>
<rect x="1458" y="296" width="1" height="18"/>
<rect x="1456" y="309" width="2" height="1"/>
<rect x="1459" y="296" width="2" height="1"/>
<rect x="1465" y="281" width="1" height="16"/>
<rect x="1463" y="296" width="2" height="1"/>
<rect x="1466" y="286" width="2" height="1"/>
<rect x="1471" y="280" width="1" height="13"/>
<rect x="1469" y="286" width="2" height="1"/>
<rect x="1472" y="290" width="2" height="1"/>
<rect x="1477" y="290" width="1" height="11"/>
<rect x="1475" y="290" width="2" height="1"/>
<rect x="1478" y="295" width="2" height="1"/>
<rect x="1484" y="265" width="1" height="31"/>
<rect x="1482" y="295" width="2" height="1"/>
<rect x="1485" y="266" width="2" height="1"/>
<rect x="45" y="539" width="1" height="2"/>
<rect x="43" y="539" width="2" height="1"/>
<rect x="46" y="540" width="2" height="1"/>
<rect x="115" y="659" width="1" height="4"/>
<rect x="113" y="662" width="2" height="1"/>
<rect x="116" y="659" width="2" height="1"/>
<rect x="121" y="659" width="1" height="1"/>
<rect x="119" y="659" width="2" height="1"/>
<rect x="122" y="659" width="2" height="1"/>
<rect x="247" y="801" width="1" height="3"/>
<rect x="245" y="803" width="2" height="1"/>
<rect x="248" y="801" width="2" height="1"/>
<rect x="310" y="778" width="1" height="1"/>
<rect x="308" y="778" width="2" height="1"/>
<rect x="311" y="778" width="2" height="1"/>
<rect x="443" y="523" width="1" height="2"/>
<rect x="441" y="524" width="2" height="1"/>
<rect x="444" y="523" width="2" height="1"/>
<rect x="506" y="599" width="1" height="3"/>
<rect x="504" y="599" width="2" height="1"/>
<rect x="507" y="601" width="2" height="1"/>
<rect x="569" y="520" width="1" height="2"/>
<rect x="567" y="520" width="2" height="1"/>
<rect x="570" y="521" width="2" height="1"/>
<rect x="632" y="525" width="1" height="1"/>
<rect x="630" y="525" width="2" height="1"/>
<rect x="633" y="525" width="2" height="1"/>
<rect x="695" y="777" width="1" height="4"/>
<rect x="693" y="777" width="2" height="1"/>
<rect x="696" y="780" width="2" height="1"/>
<rect x="765" y="672" width="1" height="4"/>
<rect x="763" y="672" width="2" height="1"/>
<rect x="766" y="675" width="2" height="1"/>
<rect x="827" y="706" width="1" height="2"/>
<rect x="825" y="707" width="2" height="1"/>
<rect x="828" y="706" width="2" height="1"/>
<rect x="891" y="643" width="1" height="1"/>
<rect x="889" y="643" width="2" height="1"/>
<rect x="892" y="643" width="2" height="1"/>
<rect x="954" y="520" width="1" height="1"/>
<rect x="952" y="520" width="2" height="1"/>
<rect x="955" y="520" width="2" height="1"/>
<rect x="1017" y="514" width="1" height="8"/>
<rect x="1015" y="521" width="2" height="1"/>
<rect x="1018" y="514" width="2" height="1"/>
<rect x="1105" y="581" width="1" height="1"/>
<rect x="1103" y="581" width="2" height="1"/>
<rect x="1106" y="581" width="2" height="1"/>
<rect x="1168" y="475" width="1" height="2"/>
<rect x="1166" y="475" width="2" height="1"/>
<rect x="1169" y="476" width="2" height="1"/>
<rect x="1231" y="348" width="1" height="1"/>
<rect x="1229" y="348" width="2" height="1"/>
<rect x="1232" y="348" width="2" height="1"/>
<rect x="1294" y="338" width="1" height="2"/>
<rect x="1292" y="338" width="2" height="1"/>
<rect x="1295" y="339" width="2" height="1"/>
<rect x="1364" y="339" width="1" height="2"/>
<rect x="1362" y="339" width="2" height="1"/>
<rect x="1365" y="340" width="2" height="1"/>
<rect x="1427" y="336" width="1" height="3"/>
<rect x="1425" y="336" width="2" height="1"/>
<rect x="1428" y="336" width="2" height="1"/>
<rect x="1490" y="264" width="1" height="2"/>
<rect x="1488" y="265" width="2" height="1"/>
<rect x="1491" y="264" width="2" height="1"/>
</g>
</svg></body></html>
